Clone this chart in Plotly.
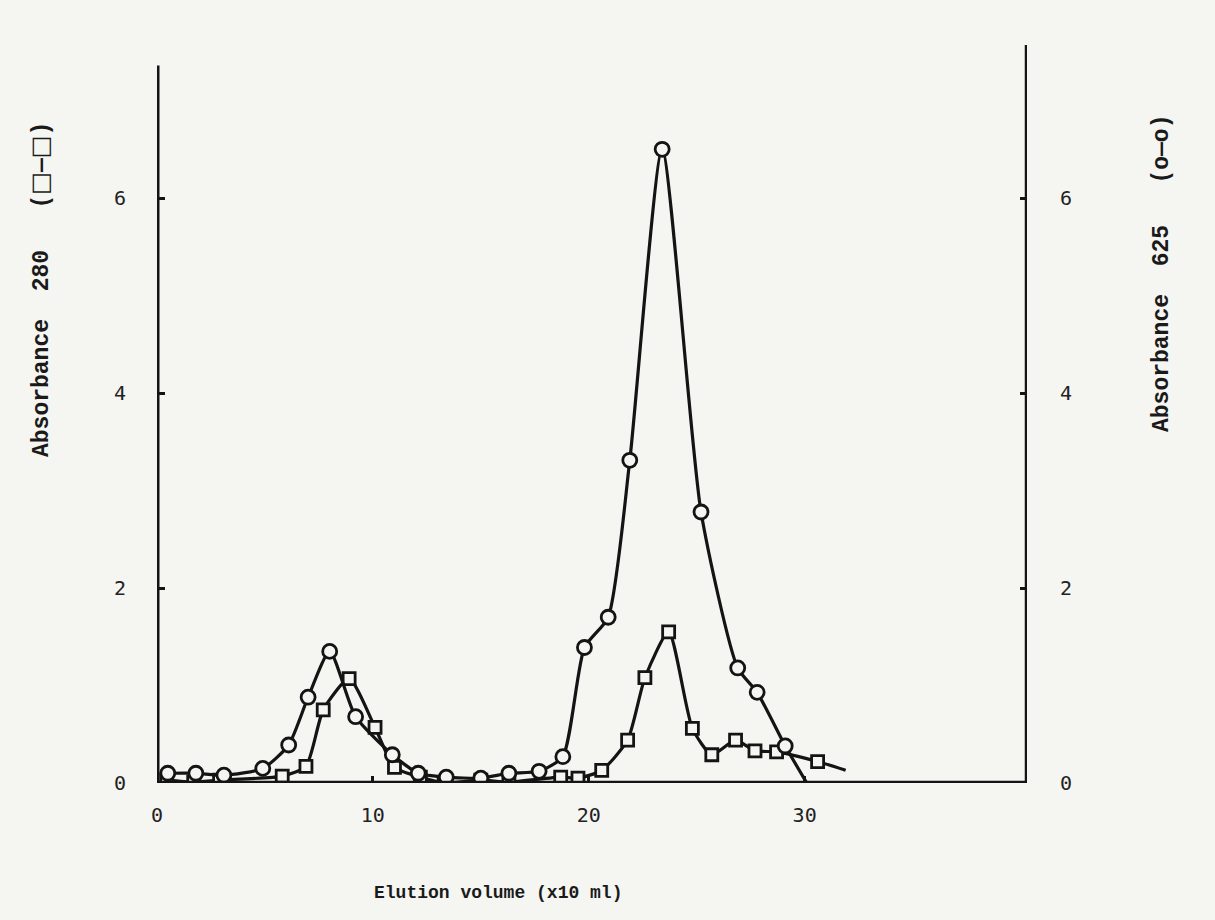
import plotly.graph_objects as go

# A625 (circles, right axis)
a625_x = [0.5, 1.8, 3.1, 4.9, 6.1, 7.0, 8.0, 9.2, 10.9, 12.1, 13.4, 15.0, 16.3, 17.7,
          18.8, 19.8, 20.9, 21.9, 23.4, 25.2, 26.9, 27.8, 29.1]
a625_y = [0.10, 0.10, 0.08, 0.15, 0.39, 0.88, 1.35, 0.68, 0.29, 0.10, 0.06, 0.05, 0.10, 0.12,
          0.27, 1.39, 1.70, 3.31, 6.50, 2.78, 1.18, 0.93, 0.38]
a625_end_x = [30.1]
a625_end_y = [0.0]

# A280 (squares, left axis)
a280_x = [0.45, 1.7, 2.9, 5.8, 6.9, 7.7, 8.9, 10.1, 11.0, 12.2, 13.3, 15.0, 16.3, 18.7,
          19.5, 20.6, 21.8, 22.6, 23.7, 24.8, 25.7, 26.8, 27.7, 28.7, 30.6]
a280_y = [0.03, 0.01, 0.03, 0.07, 0.17, 0.75, 1.07, 0.57, 0.16, 0.06, 0.0, 0.03, 0.01, 0.06,
          0.05, 0.13, 0.44, 1.08, 1.55, 0.56, 0.29, 0.44, 0.33, 0.32, 0.22]
a280_tail_x = [31.9]
a280_tail_y = [0.13]

x_ticks = [0, 10, 20, 30]
y_ticks = [0, 2, 4, 6]

X_MAX = 40.3
Y_MAX = 7.57
LEFT_TOP = 7.36

INK = "#141414"
BG = "#f5f5f2"
FONT = "Liberation Mono"

fig = go.Figure()

# lines
fig.add_trace(go.Scatter(x=a280_x + a280_tail_x, y=a280_y + a280_tail_y, mode="lines",
                         line=dict(color=INK, width=3.2, shape="spline", smoothing=0.6),
                         hoverinfo="skip", showlegend=False))
fig.add_trace(go.Scatter(x=a625_x + a625_end_x, y=a625_y + a625_end_y, mode="lines",
                         line=dict(color=INK, width=3.2, shape="spline", smoothing=0.6),
                         hoverinfo="skip", showlegend=False, yaxis="y2"))
# markers
fig.add_trace(go.Scatter(x=a280_x, y=a280_y, mode="markers",
                         marker=dict(symbol="square", size=12, color=BG,
                                     line=dict(color=INK, width=2.8)),
                         name="A280", showlegend=False))
fig.add_trace(go.Scatter(x=a625_x, y=a625_y, mode="markers",
                         marker=dict(symbol="circle", size=14, color=BG,
                                     line=dict(color=INK, width=2.8)),
                         name="A625", showlegend=False, yaxis="y2"))

axis_font = dict(family="DejaVu Sans Mono", size=20, color="#222222")

fig.update_layout(
    width=1215, height=920,
    margin=dict(l=157, r=188, t=45, b=137),
    paper_bgcolor=BG, plot_bgcolor=BG,
    xaxis=dict(range=[0, X_MAX], tickvals=x_ticks, ticktext=[str(v) for v in x_ticks],
               showgrid=False, zeroline=False, showline=False,
               ticks="inside", ticklen=7, tickwidth=2.5, tickcolor=INK,
               tickfont=axis_font, ticklabelstandoff=18),
    yaxis=dict(range=[0, Y_MAX], tickvals=y_ticks, ticktext=[str(v) for v in y_ticks],
               showgrid=False, zeroline=False, showline=False,
               ticks="inside", ticklen=8, tickwidth=3, tickcolor=INK,
               tickfont=axis_font, ticklabelstandoff=30),
    yaxis2=dict(range=[0, Y_MAX], overlaying="y", side="right",
                tickvals=y_ticks, ticktext=[str(v) for v in y_ticks],
                showgrid=False, zeroline=False, showline=False,
                ticks="inside", ticklen=7, tickwidth=3, tickcolor=INK,
                tickfont=axis_font, ticklabelstandoff=32),
)

# axis frame lines (hand-drawn look: left shorter than right)
fig.add_shape(type="line", xref="x", yref="y", x0=0, x1=0, y0=0, y1=LEFT_TOP,
              line=dict(color=INK, width=5))
fig.add_shape(type="line", xref="x", yref="y", x0=X_MAX, x1=X_MAX, y0=0, y1=Y_MAX,
              line=dict(color=INK, width=4.5))
fig.add_shape(type="line", xref="x", yref="y", x0=0, x1=X_MAX, y0=0, y1=0,
              line=dict(color=INK, width=4.5))

PW = 1215 - 157 - 188
PH = 783 - 45
box = "<span style='font-family:DejaVu Sans;font-size:24px'>□</span>"
title_font = dict(family=FONT, size=19, color="#1a1a1a", weight="bold")
ytitle_font = dict(family=FONT, size=23, color="#1a1a1a", weight="bold")

fig.add_annotation(text="Elution volume (x10 ml)", xref="paper", yref="paper",
                   x=(498 - 157) / PW, y=-(893 - 783) / PH,
                   showarrow=False, font=dict(family=FONT, size=18, color="#1a1a1a", weight="bold"),
                   xanchor="center", yanchor="middle")
fig.add_annotation(text="Absorbance  280   (" + box + "—" + box + ")", xref="paper", yref="paper",
                   x=(40 - 157) / PW, y=(783 - 290) / PH,
                   textangle=-90, showarrow=False, font=ytitle_font,
                   xanchor="center", yanchor="middle")
fig.add_annotation(text="Absorbance  625   (o—o)", xref="paper", yref="paper",
                   x=(1162 - 157) / PW, y=(783 - 274) / PH,
                   textangle=-90, showarrow=False, font=ytitle_font,
                   xanchor="center", yanchor="middle")

fig.write_html("out.html")
